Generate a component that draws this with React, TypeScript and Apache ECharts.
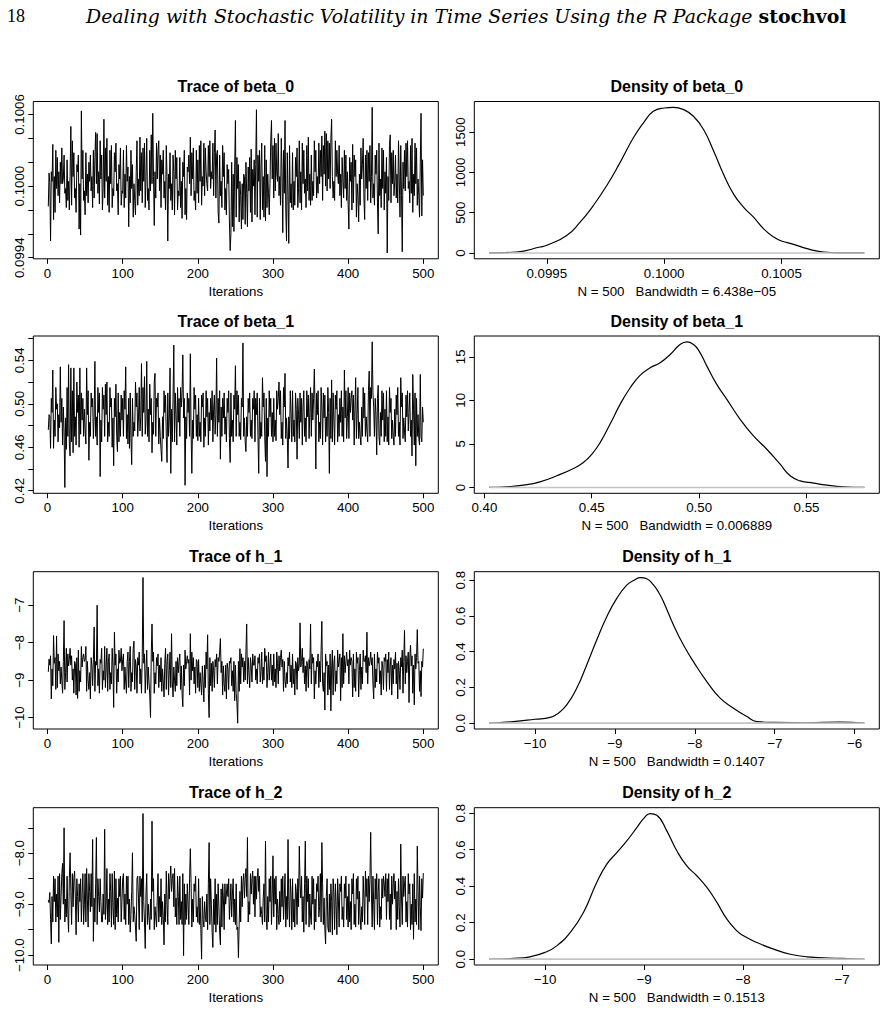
import React, { useEffect, useRef } from "react";
import * as echarts from "echarts";

// ---------- posterior draws, iterations 1..500 ----------
const beta0Draws = [
  0.09983, 0.10011, 0.10003, 0.09954, 0.10012, 0.10004, 0.10035, 0.09972, 0.10008, 0.09978, 0.1003, 0.09998, 0.10024, 0.09992, 0.10012, 0.09986, 0.1002, 0.10002, 0.10032, 0.10002, 0.10006, 0.10026, 0.09994, 0.09998, 0.09982,
  0.10022, 0.09988, 0.10004, 0.0998, 0.10008, 0.1005, 0.09984, 0.10038, 0.10008, 0.10028, 0.0999, 0.09998, 0.09978, 0.10018, 0.10012, 0.10026, 0.09964, 0.10002, 0.09959, 0.10063, 0.10006, 0.1003, 0.09988, 0.09996, 0.09976,
  0.10028, 0.09992, 0.1001, 0.09986, 0.1002, 0.10004, 0.10026, 0.09996, 0.10008, 0.09982, 0.1003, 0.0999, 0.10024, 0.10045, 0.10002, 0.10044, 0.09994, 0.10012, 0.09985, 0.10038, 0.10006, 0.10026, 0.0998, 0.09998, 0.10056,
  0.0999, 0.10032, 0.10004, 0.1004, 0.09984, 0.10008, 0.09978, 0.1003, 0.10002, 0.10034, 0.09982, 0.09998, 0.09992, 0.10028, 0.10012, 0.10036, 0.09996, 0.10002, 0.09976, 0.10018, 0.10006, 0.10032, 0.09984, 0.09996, 0.09994,
  0.1003, 0.09982, 0.1001, 0.0999, 0.10034, 0.10004, 0.10016, 0.09966, 0.10008, 0.09986, 0.1003, 0.09998, 0.10018, 0.09974, 0.10002, 0.09988, 0.09976, 0.10012, 0.10038, 0.09984, 0.10006, 0.09992, 0.10041, 0.09996, 0.10028,
  0.09986, 0.10032, 0.10004, 0.10036, 0.09982, 0.10008, 0.1004, 0.09988, 0.09998, 0.0998, 0.1003, 0.09996, 0.10043, 0.10002, 0.10061, 0.10008, 0.09967, 0.10012, 0.0999, 0.10036, 0.10006, 0.1003, 0.10038, 0.09996, 0.10026,
  0.09982, 0.10022, 0.1001, 0.1003, 0.0999, 0.10004, 0.0998, 0.10034, 0.10008, 0.09954, 0.1001, 0.09998, 0.10028, 0.09988, 0.10002, 0.0998, 0.10026, 0.10012, 0.09976, 0.1003, 0.10006, 0.10024, 0.0998, 0.09996, 0.09992,
  0.10024, 0.09982, 0.10004, 0.09973, 0.1002, 0.10008, 0.1003, 0.09976, 0.09998, 0.09972, 0.10016, 0.10012, 0.10026, 0.10002, 0.10041, 0.09992, 0.10028, 0.10006, 0.10032, 0.09988, 0.09996, 0.0998, 0.1003, 0.09994, 0.10022,
  0.09986, 0.10034, 0.10004, 0.10038, 0.09984, 0.10008, 0.1, 0.10036, 0.09992, 0.10032, 0.10012, 0.10002, 0.09996, 0.10034, 0.10008, 0.10038, 0.09998, 0.10012, 0.10006, 0.10036, 0.09992, 0.10028, 0.10047, 0.0999, 0.10026,
  0.1003, 0.09978, 0.09969, 0.10026, 0.09992, 0.10004, 0.09982, 0.10034, 0.10008, 0.10028, 0.0998, 0.09998, 0.09976, 0.10018, 0.10002, 0.10014, 0.0997, 0.09946, 0.0996, 0.1002, 0.09966, 0.1001, 0.09962, 0.10016, 0.10055,
  0.09974, 0.10024, 0.09998, 0.10018, 0.0997, 0.10004, 0.09992, 0.09964, 0.10002, 0.09972, 0.1001, 0.10008, 0.09968, 0.1002, 0.09994, 0.09966, 0.10016, 0.09996, 0.10024, 0.09978, 0.10031, 0.0997, 0.10014, 0.1, 0.10022,
  0.09976, 0.10018, 0.10064, 0.09974, 0.10026, 0.10004, 0.1003, 0.09972, 0.10016, 0.10036, 0.0998, 0.10008, 0.09974, 0.10034, 0.09971, 0.10022, 0.09982, 0.1001, 0.09994, 0.09976, 0.10002, 0.10038, 0.10055, 0.10006, 0.10034,
  0.0999, 0.1004, 0.09996, 0.10036, 0.1001, 0.10004, 0.10044, 0.09992, 0.10008, 0.09984, 0.1004, 0.10012, 0.09961, 0.1003, 0.09994, 0.10055, 0.0998, 0.09954, 0.10028, 0.09992, 0.09952, 0.10034, 0.09986, 0.10002, 0.09982,
  0.10028, 0.0998, 0.10004, 0.09984, 0.10024, 0.10008, 0.10032, 0.09982, 0.09998, 0.10038, 0.09986, 0.10012, 0.0998, 0.10036, 0.10002, 0.1003, 0.09994, 0.10006, 0.09982, 0.10034, 0.09996, 0.10041, 0.09988, 0.1001, 0.09984,
  0.10026, 0.09988, 0.10004, 0.09992, 0.10038, 0.10012, 0.1003, 0.0999, 0.10008, 0.09994, 0.10036, 0.10002, 0.1003, 0.10008, 0.10042, 0.09988, 0.10034, 0.1001, 0.10046, 0.1, 0.10044, 0.09996, 0.10038, 0.10006, 0.10036,
  0.09998, 0.1004, 0.10056, 0.10008, 0.0999, 0.10004, 0.09988, 0.10038, 0.10008, 0.1003, 0.1001, 0.10002, 0.10034, 0.09992, 0.1001, 0.09982, 0.10024, 0.10006, 0.0999, 0.1003, 0.09998, 0.10026, 0.09988, 0.10012, 0.09984,
  0.09964, 0.10024, 0.10004, 0.1002, 0.0998, 0.10035, 0.09986, 0.10026, 0.10008, 0.10022, 0.09974, 0.10002, 0.09992, 0.0997, 0.1001, 0.09984, 0.10032, 0.10006, 0.10018, 0.1004, 0.0999, 0.09972, 0.10026, 0.09998, 0.1003,
  0.09988, 0.10028, 0.10004, 0.10034, 0.09986, 0.10008, 0.10066, 0.0999, 0.10002, 0.09984, 0.10026, 0.1001, 0.1003, 0.09986, 0.0996, 0.10036, 0.09992, 0.10006, 0.09982, 0.10032, 0.09998, 0.1003, 0.0998, 0.10012, 0.09994,
  0.10024, 0.09944, 0.10008, 0.09988, 0.10034, 0.10043, 0.09986, 0.10028, 0.10002, 0.1003, 0.09992, 0.10004, 0.10026, 0.0999, 0.1001, 0.09986, 0.10038, 0.10006, 0.09974, 0.10034, 0.09992, 0.09945, 0.1002, 0.09998, 0.1003,
  0.09996, 0.10036, 0.10008, 0.10038, 0.09998, 0.10004, 0.09986, 0.10034, 0.09994, 0.1004, 0.09978, 0.1001, 0.09992, 0.10036, 0.10002, 0.10032, 0.09984, 0.10006, 0.09992, 0.09974, 0.1002, 0.10061, 0.09975, 0.10022, 0.09992,
];

const beta1Draws = [
  0.476, 0.49, 0.488, 0.459, 0.505, 0.492, 0.531, 0.459, 0.485, 0.47, 0.515, 0.495, 0.5, 0.465, 0.49, 0.478, 0.534, 0.483, 0.505, 0.462, 0.497, 0.475, 0.423, 0.487, 0.458,
  0.515, 0.47, 0.536, 0.463, 0.452, 0.533, 0.465, 0.512, 0.455, 0.533, 0.47, 0.488, 0.462, 0.52, 0.492, 0.508, 0.46, 0.533, 0.472, 0.51, 0.485, 0.505, 0.47, 0.495, 0.475,
  0.463, 0.533, 0.49, 0.512, 0.448, 0.483, 0.47, 0.51, 0.497, 0.505, 0.468, 0.487, 0.539, 0.47, 0.488, 0.462, 0.515, 0.492, 0.51, 0.433, 0.485, 0.465, 0.515, 0.495, 0.508,
  0.47, 0.518, 0.49, 0.52, 0.465, 0.483, 0.47, 0.515, 0.497, 0.505, 0.46, 0.487, 0.443, 0.505, 0.488, 0.518, 0.47, 0.456, 0.51, 0.465, 0.492, 0.47, 0.508, 0.485, 0.505,
  0.47, 0.512, 0.495, 0.534, 0.468, 0.49, 0.463, 0.505, 0.459, 0.51, 0.468, 0.444, 0.505, 0.47, 0.483, 0.475, 0.52, 0.497, 0.51, 0.47, 0.487, 0.515, 0.475, 0.488, 0.537,
  0.47, 0.515, 0.492, 0.525, 0.472, 0.485, 0.539, 0.47, 0.495, 0.465, 0.518, 0.49, 0.505, 0.455, 0.483, 0.472, 0.52, 0.528, 0.47, 0.505, 0.497, 0.51, 0.463, 0.487, 0.47,
  0.458, 0.447, 0.488, 0.468, 0.512, 0.492, 0.508, 0.47, 0.446, 0.51, 0.47, 0.485, 0.533, 0.436, 0.495, 0.465, 0.505, 0.554, 0.465, 0.51, 0.49, 0.462, 0.515, 0.483, 0.505,
  0.47, 0.515, 0.497, 0.51, 0.545, 0.487, 0.505, 0.425, 0.488, 0.468, 0.51, 0.492, 0.505, 0.47, 0.546, 0.474, 0.436, 0.485, 0.468, 0.515, 0.495, 0.508, 0.47, 0.49, 0.466,
  0.505, 0.47, 0.483, 0.465, 0.508, 0.497, 0.51, 0.46, 0.487, 0.47, 0.512, 0.488, 0.505, 0.462, 0.492, 0.475, 0.505, 0.485, 0.512, 0.465, 0.495, 0.508, 0.472, 0.49, 0.542,
  0.47, 0.505, 0.483, 0.512, 0.449, 0.497, 0.47, 0.505, 0.487, 0.51, 0.472, 0.488, 0.465, 0.505, 0.492, 0.512, 0.468, 0.446, 0.51, 0.47, 0.485, 0.465, 0.508, 0.495, 0.535,
  0.47, 0.512, 0.49, 0.508, 0.47, 0.483, 0.467, 0.505, 0.497, 0.556, 0.47, 0.487, 0.465, 0.456, 0.488, 0.47, 0.505, 0.492, 0.51, 0.47, 0.485, 0.468, 0.505, 0.495, 0.512,
  0.465, 0.505, 0.49, 0.51, 0.47, 0.436, 0.505, 0.468, 0.483, 0.47, 0.524, 0.497, 0.51, 0.47, 0.447, 0.505, 0.433, 0.487, 0.47, 0.512, 0.488, 0.505, 0.47, 0.492, 0.465,
  0.505, 0.47, 0.485, 0.466, 0.512, 0.495, 0.505, 0.52, 0.49, 0.512, 0.468, 0.483, 0.462, 0.515, 0.497, 0.528, 0.468, 0.487, 0.47, 0.441, 0.488, 0.468, 0.512, 0.492, 0.465,
  0.512, 0.47, 0.485, 0.465, 0.51, 0.495, 0.449, 0.505, 0.49, 0.468, 0.51, 0.483, 0.505, 0.462, 0.497, 0.512, 0.47, 0.487, 0.465, 0.512, 0.488, 0.508, 0.468, 0.492, 0.515,
  0.47, 0.51, 0.485, 0.505, 0.532, 0.495, 0.44, 0.51, 0.49, 0.512, 0.465, 0.483, 0.468, 0.515, 0.497, 0.462, 0.51, 0.487, 0.508, 0.465, 0.488, 0.47, 0.515, 0.492, 0.436,
  0.505, 0.468, 0.522, 0.465, 0.51, 0.485, 0.462, 0.508, 0.495, 0.512, 0.465, 0.49, 0.47, 0.505, 0.483, 0.512, 0.47, 0.497, 0.465, 0.531, 0.487, 0.512, 0.468, 0.488, 0.515,
  0.468, 0.51, 0.492, 0.505, 0.512, 0.485, 0.508, 0.462, 0.495, 0.524, 0.468, 0.49, 0.515, 0.468, 0.483, 0.47, 0.462, 0.497, 0.47, 0.515, 0.487, 0.51, 0.47, 0.488, 0.475,
  0.465, 0.512, 0.53, 0.47, 0.515, 0.505, 0.557, 0.51, 0.497, 0.47, 0.505, 0.49, 0.453, 0.505, 0.517, 0.47, 0.462, 0.492, 0.47, 0.512, 0.485, 0.51, 0.465, 0.495, 0.47,
  0.512, 0.465, 0.488, 0.462, 0.515, 0.492, 0.505, 0.468, 0.485, 0.47, 0.462, 0.495, 0.47, 0.508, 0.49, 0.515, 0.47, 0.483, 0.462, 0.524, 0.497, 0.51, 0.468, 0.487, 0.475,
  0.465, 0.508, 0.488, 0.512, 0.475, 0.492, 0.51, 0.47, 0.485, 0.452, 0.527, 0.495, 0.462, 0.51, 0.443, 0.505, 0.47, 0.49, 0.468, 0.462, 0.527, 0.47, 0.465, 0.497, 0.483,
];

const h1Draws = [
  -8.78, -8.44, -8.6, -8.35, -9.5, -8.7, -9.15, -7.81, -8.55, -8.4, -9.25, -7.82, -9.2, -8.3, -8.75, -8.5, -9.1, -8.65, -9.0, -9.35, -8.5, -7.41, -9.25, -8.8, -8.15,
  -9.05, -8.3, -8.62, -8.45, -8.15, -8.6, -8.35, -9.0, -8.7, -9.35, -8.5, -8.55, -9.4, -8.4, -9.49, -8.2, -9.3, -8.75, -9.05, -8.1, -8.65, -8.4, -8.3, -8.5, -8.45,
  -8.1, -9.3, -8.5, -9.0, -9.25, -8.8, -9.5, -8.4, -8.62, -9.15, -8.45, -7.58, -9.3, -8.5, -8.6, -7.0, -9.15, -8.7, -9.35, -8.45, -8.55, -8.15, -9.25, -8.75, -9.0,
  -8.1, -9.2, -8.65, -8.15, -9.3, -8.5, -8.3, -9.25, -8.8, -9.1, -8.15, -8.62, -9.73, -7.72, -8.6, -8.3, -9.35, -8.7, -9.05, -8.2, -8.55, -8.5, -8.15, -8.75, -8.45,
  -8.3, -9.25, -8.65, -9.05, -9.35, -8.5, -8.25, -9.2, -8.5, -8.1, -9.3, -8.8, -9.05, -8.15, -7.96, -9.25, -8.45, -8.62, -9.35, -8.4, -8.6, -8.25, -9.1, -8.7, -9.35,
  -8.4, -6.26, -8.55, -8.3, -9.35, -8.75, -8.2, -9.25, -8.65, -9.05, -9.4, -10.0, -8.3, -7.5, -8.5, -8.25, -9.35, -8.8, -9.1, -8.4, -8.62, -8.3, -9.2, -8.6, -9.05,
  -8.4, -9.3, -8.7, -9.05, -9.45, -8.55, -8.15, -9.25, -8.5, -8.3, -9.4, -8.75, -8.25, -9.2, -7.76, -9.05, -9.45, -8.65, -9.0, -9.3, -8.5, -9.15, -8.4, -8.8, -8.5,
  -8.3, -9.25, -8.62, -9.35, -9.71, -8.6, -9.15, -8.2, -8.7, -8.5, -8.35, -8.55, -8.45, -9.4, -7.76, -9.0, -8.25, -8.75, -8.4, -9.1, -8.65, -9.35, -8.45, -8.5, -9.2,
  -8.45, -9.3, -8.8, -9.1, -9.4, -8.62, -9.05, -9.58, -8.6, -9.2, -8.25, -8.7, -7.79, -9.35, -10.0, -8.4, -9.15, -8.55, -9.3, -8.5, -8.75, -9.2, -8.45, -8.65, -8.3,
  -9.1, -8.4, -8.5, -8.25, -7.89, -8.8, -8.5, -9.4, -8.62, -9.1, -9.3, -8.6, -9.5, -8.55, -8.7, -9.25, -8.5, -8.55, -8.4, -9.15, -8.75, -9.3, -8.5, -9.55, -8.6,
  -9.35, -9.6, -10.15, -8.5, -9.3, -8.16, -9.1, -8.3, -8.65, -8.4, -9.05, -8.5, -9.0, -8.25, -7.5, -9.1, -8.4, -8.8, -9.2, -8.4, -8.62, -9.05, -8.3, -8.6, -8.6,
  -8.35, -9.0, -8.7, -9.1, -8.4, -8.55, -8.3, -9.05, -8.75, -8.25, -9.1, -8.65, -9.0, -8.15, -8.5, -8.35, -9.2, -8.8, -8.25, -9.0, -8.62, -8.3, -9.0, -8.6, -9.15,
  -8.3, -9.05, -8.7, -9.2, -8.25, -8.55, -9.1, -8.35, -8.75, -8.4, -8.2, -8.65, -8.45, -9.3, -8.5, -9.0, -9.2, -8.8, -9.1, -8.4, -8.62, -8.25, -9.05, -8.6, -9.2,
  -8.3, -9.1, -8.7, -9.4, -8.5, -8.55, -9.25, -8.4, -8.75, -8.6, -7.47, -8.65, -8.5, -8.15, -8.8, -8.4, -9.1, -8.62, -9.3, -8.5, -8.6, -9.2, -8.45, -8.7, -7.5,
  -9.1, -8.3, -8.55, -8.4, -9.5, -8.75, -9.1, -8.5, -8.65, -8.3, -9.2, -8.5, -9.05, -8.2, -7.43, -9.1, -9.3, -8.8, -9.8, -8.3, -8.62, -8.5, -9.4, -8.6, -9.25,
  -8.3, -9.82, -8.7, -8.2, -9.4, -8.55, -8.35, -9.3, -8.75, -9.1, -8.2, -8.65, -8.5, -8.3, -9.55, -8.4, -9.2, -7.76, -9.1, -8.35, -8.8, -8.5, -8.25, -8.62, -8.45,
  -9.1, -8.2, -8.6, -8.4, -8.5, -9.45, -8.3, -9.2, -8.7, -9.3, -8.25, -8.55, -8.4, -9.45, -8.75, -8.3, -9.25, -8.65, -9.1, -8.2, -8.5, -8.5, -8.35, -8.8, -7.72,
  -9.1, -8.4, -8.62, -8.5, -8.25, -8.6, -8.4, -9.1, -9.5, -8.3, -9.2, -8.7, -9.05, -8.25, -8.55, -8.4, -9.1, -8.75, -9.4, -8.5, -8.65, -9.25, -8.4, -8.5, -8.3,
  -9.3, -8.45, -8.8, -8.25, -9.25, -8.62, -8.4, -9.4, -8.6, -9.1, -8.45, -8.7, -8.25, -9.1, -8.55, -9.5, -8.5, -8.75, -9.25, -8.4, -8.65, -8.2, -9.35, -8.5, -7.67,
  -9.1, -8.35, -8.8, -8.5, -8.25, -9.6, -8.4, -8.07, -8.62, -8.35, -9.35, -8.6, -9.66, -8.3, -8.7, -8.4, -7.65, -8.55, -8.5, -9.3, -8.75, -9.44, -8.5, -8.65, -8.16,
];

const h2Draws = [
  -8.92, -8.97, -8.77, -9.3, -9.78, -8.85, -9.35, -8.45, -8.95, -8.5, -9.35, -8.8, -9.25, -8.45, -9.75, -8.4, -9.3, -8.85, -8.4, -8.2, -9.0, -7.5, -9.35, -8.9, -9.25,
  -8.45, -9.2, -9.55, -8.5, -7.99, -8.75, -9.4, -8.4, -9.05, -8.5, -8.35, -8.88, -9.6, -8.5, -8.85, -9.35, -8.6, -8.95, -8.5, -9.35, -8.8, -8.4, -9.4, -9.0, -8.4,
  -9.35, -8.3, -8.9, -9.45, -8.4, -8.75, -9.15, -8.4, -9.05, -7.73, -9.73, -8.88, -9.35, -8.6, -7.69, -9.4, -8.5, -8.85, -9.15, -8.5, -8.95, -9.35, -9.35, -8.8, -9.2,
  -7.53, -9.3, -9.0, -8.3, -9.4, -8.9, -9.35, -8.4, -8.75, -9.45, -8.4, -9.05, -9.4, -8.35, -9.5, -8.5, -9.25, -8.88, -9.35, -8.5, -8.85, -8.45, -9.35, -8.95, -8.5,
  -8.4, -9.3, -8.8, -9.4, -8.45, -9.0, -8.45, -9.4, -8.9, -9.55, -9.2, -8.75, -7.99, -9.35, -9.05, -9.2, -9.45, -9.73, -8.5, -8.45, -8.88, -9.5, -8.45, -8.85, -8.5,
  -9.35, -7.22, -8.95, -9.35, -9.87, -8.8, -8.4, -9.4, -9.0, -9.25, -9.5, -8.9, -9.3, -7.37, -8.75, -8.5, -9.5, -9.05, -9.25, -9.45, -8.88, -8.4, -9.35, -8.85, -9.25,
  -8.5, -9.4, -8.95, -9.25, -9.8, -8.8, -9.35, -8.35, -9.0, -9.4, -8.4, -8.9, -8.5, -8.25, -8.75, -8.5, -8.4, -9.05, -8.3, -9.25, -8.88, -9.4, -8.45, -8.85, -9.4,
  -8.45, -9.3, -8.95, -9.4, -8.4, -10.01, -8.6, -9.4, -8.8, -9.3, -8.6, -9.0, -9.4, -8.5, -7.91, -8.6, -9.45, -8.9, -9.35, -8.6, -8.75, -8.45, -9.25, -9.05, -9.36,
  -8.5, -9.4, -8.88, -9.5, -10.08, -8.85, -9.3, -9.45, -8.95, -9.25, -9.35, -8.8, -9.5, -8.6, -7.79, -9.4, -8.5, -9.0, -9.55, -9.85, -8.9, -9.4, -8.5, -9.55, -8.8,
  -9.4, -8.6, -9.05, -9.55, -9.8, -8.7, -9.45, -8.6, -8.88, -9.5, -8.6, -9.0, -8.8, -8.6, -8.85, -8.5, -9.3, -8.95, -8.6, -9.25, -8.8, -8.5, -9.35, -8.9, -9.4,
  -8.6, -9.5, -9.45, -10.05, -9.4, -8.75, -9.35, -8.45, -9.05, -8.55, -8.4, -8.88, -8.5, -8.3, -8.85, -7.69, -9.35, -8.95, -9.2, -8.4, -8.8, -8.5, -8.35, -9.0, -8.45,
  -9.25, -8.45, -8.9, -8.5, -8.3, -8.75, -8.45, -9.25, -9.05, -9.2, -9.4, -8.88, -8.6, -9.35, -7.76, -9.2, -9.5, -8.85, -9.35, -8.5, -8.95, -8.45, -9.4, -8.8, -8.05,
  -9.25, -8.5, -9.0, -8.45, -9.5, -8.9, -9.2, -9.4, -8.75, -9.35, -8.5, -9.05, -8.45, -9.3, -8.88, -8.4, -9.45, -8.85, -9.3, -7.73, -8.95, -9.45, -8.5, -8.8, -9.5,
  -8.5, -9.35, -8.9, -9.45, -8.6, -8.75, -9.4, -8.5, -9.05, -7.86, -8.6, -8.88, -8.45, -9.35, -8.85, -9.55, -8.6, -7.76, -9.4, -8.45, -8.95, -8.5, -9.45, -8.8, -9.25,
  -9.4, -8.45, -9.0, -8.5, -9.5, -8.9, -9.35, -8.6, -8.75, -8.45, -9.25, -9.05, -8.4, -9.35, -7.79, -8.6, -9.4, -8.88, -9.5, -9.78, -8.85, -8.5, -9.45, -9.55, -8.8,
  -9.55, -8.6, -8.95, -9.6, -8.5, -8.8, -9.5, -8.6, -9.0, -9.6, -8.5, -8.9, -9.45, -8.6, -8.75, -8.45, -9.3, -9.05, -9.45, -8.6, -8.88, -8.45, -9.3, -8.85, -9.45,
  -8.6, -9.35, -8.95, -9.5, -8.5, -8.8, -8.4, -9.4, -9.0, -9.45, -8.5, -8.9, -8.45, -9.4, -8.75, -9.25, -9.5, -9.05, -9.35, -8.45, -8.88, -9.4, -8.35, -8.85, -8.5,
  -9.4, -8.45, -8.95, -8.5, -7.59, -8.8, -9.45, -8.45, -9.0, -9.5, -8.5, -8.9, -8.4, -9.4, -8.75, -8.5, -9.45, -9.05, -9.3, -8.5, -8.88, -8.45, -8.6, -8.85, -8.4,
  -9.3, -8.5, -8.95, -8.4, -9.3, -8.8, -9.5, -8.45, -9.0, -8.6, -8.4, -8.9, -8.55, -9.5, -8.75, -9.3, -8.5, -9.05, -9.45, -7.82, -8.88, -9.4, -8.45, -8.85, -8.6,
  -8.45, -9.35, -8.95, -9.45, -8.4, -8.8, -8.6, -9.5, -9.0, -9.4, -8.6, -9.69, -8.4, -9.35, -8.9, -9.4, -7.86, -8.75, -9.5, -8.45, -9.05, -9.52, -8.5, -8.88, -8.39,
];

// ---------- kernel density estimates (x grid, density) ----------
const beta0DensX = [0.099255, 0.099371, 0.099471, 0.0995, 0.099585, 0.099642, 0.099698, 0.099755, 0.099812, 0.099869, 0.099912, 0.099954, 0.1, 0.10004, 0.100083, 0.100125, 0.100168, 0.100211, 0.100253, 0.100296, 0.100339, 0.100381, 0.100424, 0.100467, 0.1005, 0.100552, 0.100609, 0.10068, 0.100751, 0.100853];
const beta0DensY = [0, 12, 74, 95, 218, 382, 588, 834, 1122, 1430, 1615, 1758, 1800, 1808, 1779, 1697, 1532, 1265, 978, 731, 567, 444, 300, 197, 148, 107, 53, 12, 2, 0];

const beta1DensX = [0.4023, 0.4104, 0.4182, 0.4259, 0.4337, 0.4415, 0.4461, 0.45, 0.4539, 0.4585, 0.4632, 0.4679, 0.4725, 0.4772, 0.4818, 0.4865, 0.4911, 0.4943, 0.4974, 0.5, 0.5036, 0.5082, 0.5129, 0.5191, 0.5253, 0.5315, 0.5377, 0.5424, 0.547, 0.5533, 0.5595, 0.5672, 0.5769];
const beta1DensY = [0, 0.08, 0.27, 0.65, 1.34, 2.18, 2.86, 3.8, 5.15, 7.25, 9.54, 11.45, 12.86, 13.74, 14.31, 15.27, 16.41, 16.72, 16.41, 15.65, 13.93, 11.83, 10.11, 7.82, 5.92, 4.39, 2.67, 1.34, 0.76, 0.5, 0.27, 0.08, 0];

const h1DensX = [-10.572, -10.271, -10, -9.812, -9.708, -9.603, -9.478, -9.353, -9.228, -9.102, -8.977, -8.852, -8.76, -8.68, -8.6, -8.52, -8.45, -8.392, -8.267, -8.142, -8.004, -7.85, -7.683, -7.516, -7.349, -7.223, -7.002, -6.597, -6.18, -5.879];
const h1DensY = [0, 0.009, 0.022, 0.032, 0.056, 0.102, 0.195, 0.326, 0.465, 0.595, 0.698, 0.772, 0.8, 0.815, 0.808, 0.775, 0.73, 0.68, 0.549, 0.437, 0.335, 0.233, 0.14, 0.084, 0.037, 0.009, 0.004, 0.002, 0.006, 0];

const h2DensX = [-10.563, -10.32, -10.152, -10, -9.882, -9.747, -9.612, -9.478, -9.376, -9.275, -9.174, -9.073, -8.996, -8.938, -8.871, -8.77, -8.669, -8.568, -8.467, -8.365, -8.264, -8.163, -8.062, -7.995, -7.86, -7.691, -7.523, -7.354, -7, -6.775];
const h2DensY = [0, 0.004, 0.013, 0.037, 0.073, 0.146, 0.256, 0.42, 0.521, 0.584, 0.648, 0.721, 0.776, 0.798, 0.789, 0.703, 0.594, 0.511, 0.457, 0.393, 0.311, 0.219, 0.155, 0.128, 0.091, 0.055, 0.027, 0.013, 0.004, 0];

// ---------- tick positions and labelled ticks ----------
const iterTicks = [0, 100, 200, 300, 400, 500];
const beta0TraceTicks = [0.0994, 0.0996, 0.0998, 0.1, 0.1002, 0.1004, 0.1006];
const beta0TraceLabels = [0.0994, 0.1, 0.1006];
const beta1TraceTicks = [0.42, 0.44, 0.46, 0.48, 0.5, 0.52, 0.54, 0.56];
const beta1TraceLabels = [0.42, 0.46, 0.5, 0.54];
const h1TraceTicks = [-10, -9, -8, -7];
const h2TraceTicks = [-10, -9.5, -9, -8.5, -8, -7.5];
const h2TraceLabels = [-10, -9, -8];
const beta0DensXTicks = [0.0995, 0.1, 0.1005];
const beta0DensYTicks = [0, 500, 1000, 1500];
const beta1DensXTicks = [0.4, 0.45, 0.5, 0.55];
const beta1DensYTicks = [0, 5, 10, 15];
const h1DensXTicks = [-10, -9, -8, -7, -6];
const h2DensXTicks = [-10, -9, -8, -7];
const hDensYTicks = [0, 0.2, 0.4, 0.6, 0.8];

const sampleSize = 500;
const bandwidths = ["6.438e\u221205", "0.006889", "0.1407", "0.1513"];
const paramNames = ["beta_0", "beta_1", "h_1", "h_2"];

// ---------- layout ----------
const SANS = '"Liberation Sans", Arial, Helvetica, sans-serif';
const COL_LEFT = [33.3, 474.3];
const ROW_TOP = [101.5, 336, 571.7, 807.7];
const BOX_W = 405;
const BOX_H = 157.3;
const AXIS_FONT = 13.3;

const minusSign = (s: string) => s.replace("-", "\u2212");
const fixed = (d: number) => (v: number) => minusSign(v.toFixed(d));

// R-style axis range: data range padded by 4% on each side
const padRange = (lo: number, hi: number) => {
  const d = (hi - lo) * 0.04;
  return [lo - d, hi + d];
};

type PanelSpec = {
  title: string;
  row: number;
  col: number;
  xs: number[];
  ys: number[];
  xRange: number[];
  yRange: number[];
  xTicks: number[];
  xLabels: number[];
  xFmt: (v: number) => string;
  yTicks: number[];
  yLabels: number[];
  yFmt: (v: number) => string;
  xName: string;
  density: boolean;
};

function tracePanel(row: number, draws: number[], yTicks: number[], yLabels: number[], yFmt: (v: number) => string): PanelSpec {
  const iters = draws.map((_, i) => i + 1);
  return {
    title: `Trace of ${paramNames[row]}`,
    row,
    col: 0,
    xs: iters,
    ys: draws,
    xRange: padRange(1, draws.length),
    yRange: padRange(Math.min(...draws), Math.max(...draws)),
    xTicks: iterTicks,
    xLabels: iterTicks,
    xFmt: fixed(0),
    yTicks,
    yLabels,
    yFmt,
    xName: "Iterations",
    density: false,
  };
}

function densityPanel(row: number, xs: number[], ys: number[], xTicks: number[], xFmt: (v: number) => string, yTicks: number[], yFmt: (v: number) => string): PanelSpec {
  return {
    title: `Density of ${paramNames[row]}`,
    row,
    col: 1,
    xs,
    ys,
    xRange: padRange(Math.min(...xs), Math.max(...xs)),
    yRange: padRange(0, Math.max(...ys)),
    xTicks,
    xLabels: xTicks,
    xFmt,
    yTicks,
    yLabels: yTicks,
    yFmt,
    xName: `N = ${sampleSize}\u00a0\u00a0 Bandwidth = ${bandwidths[row]}`,
    density: true,
  };
}

const panels: PanelSpec[] = [
  tracePanel(0, beta0Draws, beta0TraceTicks, beta0TraceLabels, fixed(4)),
  densityPanel(0, beta0DensX, beta0DensY, beta0DensXTicks, fixed(4), beta0DensYTicks, fixed(0)),
  tracePanel(1, beta1Draws, beta1TraceTicks, beta1TraceLabels, fixed(2)),
  densityPanel(1, beta1DensX, beta1DensY, beta1DensXTicks, fixed(2), beta1DensYTicks, fixed(0)),
  tracePanel(2, h1Draws, h1TraceTicks, h1TraceTicks, fixed(0)),
  densityPanel(2, h1DensX, h1DensY, h1DensXTicks, fixed(0), hDensYTicks, fixed(1)),
  tracePanel(3, h2Draws, h2TraceTicks, h2TraceLabels, fixed(1)),
  densityPanel(3, h2DensX, h2DensY, h2DensXTicks, fixed(0), hDensYTicks, fixed(1)),
];

function buildOption() {
  const grid: any[] = [];
  const xAxis: any[] = [];
  const yAxis: any[] = [];
  const series: any[] = [];
  const graphic: any[] = [];

  const labelStyle = { color: "#000", fontFamily: SANS, fontSize: AXIS_FONT };
  const tickStyle = { color: "#000", width: 1 };

  panels.forEach((p, i) => {
    const left = COL_LEFT[p.col];
    const top = ROW_TOP[p.row];
    grid.push({ left, top, width: BOX_W, height: BOX_H, show: true, borderColor: "#000", borderWidth: 1, backgroundColor: "transparent", containLabel: false });
    xAxis.push({
      type: "value",
      gridIndex: i,
      position: "bottom",
      min: p.xRange[0],
      max: p.xRange[1],
      axisLine: { show: false, onZero: false },
      splitLine: { show: false },
      axisTick: { show: true, inside: false, length: 5, lineStyle: tickStyle, customValues: p.xTicks },
      axisLabel: { ...labelStyle, margin: 8, customValues: p.xLabels, formatter: p.xFmt },
      name: p.xName,
      nameLocation: "middle",
      nameGap: 26,
      nameTextStyle: { ...labelStyle },
    });
    yAxis.push({
      type: "value",
      gridIndex: i,
      position: "left",
      min: p.yRange[0],
      max: p.yRange[1],
      axisLine: { show: false, onZero: false },
      splitLine: { show: false },
      axisTick: { show: true, inside: false, length: 5, lineStyle: tickStyle, customValues: p.yTicks },
      axisLabel: { ...labelStyle, margin: 7, rotate: 90, customValues: p.yLabels, formatter: p.yFmt },
    });
    series.push({
      type: "line",
      xAxisIndex: i,
      yAxisIndex: i,
      data: p.xs.map((x, k) => [x, p.ys[k]]),
      symbol: "none",
      showSymbol: false,
      smooth: p.density ? 0.5 : false,
      lineStyle: { color: "#000", width: p.density ? 1.2 : 1 },
      silent: true,
      clip: true,
      z: 2,
    });
    if (p.density) {
      series.push({
        type: "line",
        xAxisIndex: i,
        yAxisIndex: i,
        data: [
          [p.xs[0], 0],
          [p.xs[p.xs.length - 1], 0],
        ],
        symbol: "none",
        lineStyle: { color: "#c4c4c4", width: 1.6 },
        silent: true,
        z: 3,
      });
    }
    graphic.push({
      type: "text",
      x: left + BOX_W / 2,
      y: top - 15,
      style: { text: p.title, align: "center", verticalAlign: "middle", fill: "#000", font: `bold 16px ${SANS}` },
    });
  });

  // running page header
  graphic.push({
    type: "text",
    x: 7,
    y: 16.3,
    style: { text: "18", verticalAlign: "middle", fill: "#000", font: '18px "Liberation Serif", serif' },
  });
  graphic.push({
    type: "text",
    x: 86,
    y: 16.3,
    style: {
      text: "{i|Dealing with Stochastic Volatility in Time Series Using the }{r|R}{i| Package }{b|stochvol}",
      verticalAlign: "middle",
      fill: "#000",
      rich: {
        i: { fontFamily: '"DejaVu Serif", serif', fontStyle: "italic", fontSize: 18.9, fill: "#000" },
        r: { fontFamily: SANS, fontStyle: "italic", fontSize: 18.9, fill: "#000" },
        b: { fontFamily: '"DejaVu Serif", serif', fontWeight: "bold", fontSize: 18.9, fill: "#000" },
      },
    },
  });

  return {
    animation: false,
    backgroundColor: "#fff",
    grid,
    xAxis,
    yAxis,
    series,
    graphic,
  };
}

export default function App() {
  const ref = useRef<HTMLDivElement>(null);
  useEffect(() => {
    if (!ref.current) return;
    const chart = echarts.init(ref.current, undefined, { renderer: "svg" });
    chart.setOption(buildOption() as any);
    return () => chart.dispose();
  }, []);
  return <div ref={ref} style={{ position: "absolute", left: 0, top: 0, width: 887, height: 1012, background: "#fff" }} />;
}
